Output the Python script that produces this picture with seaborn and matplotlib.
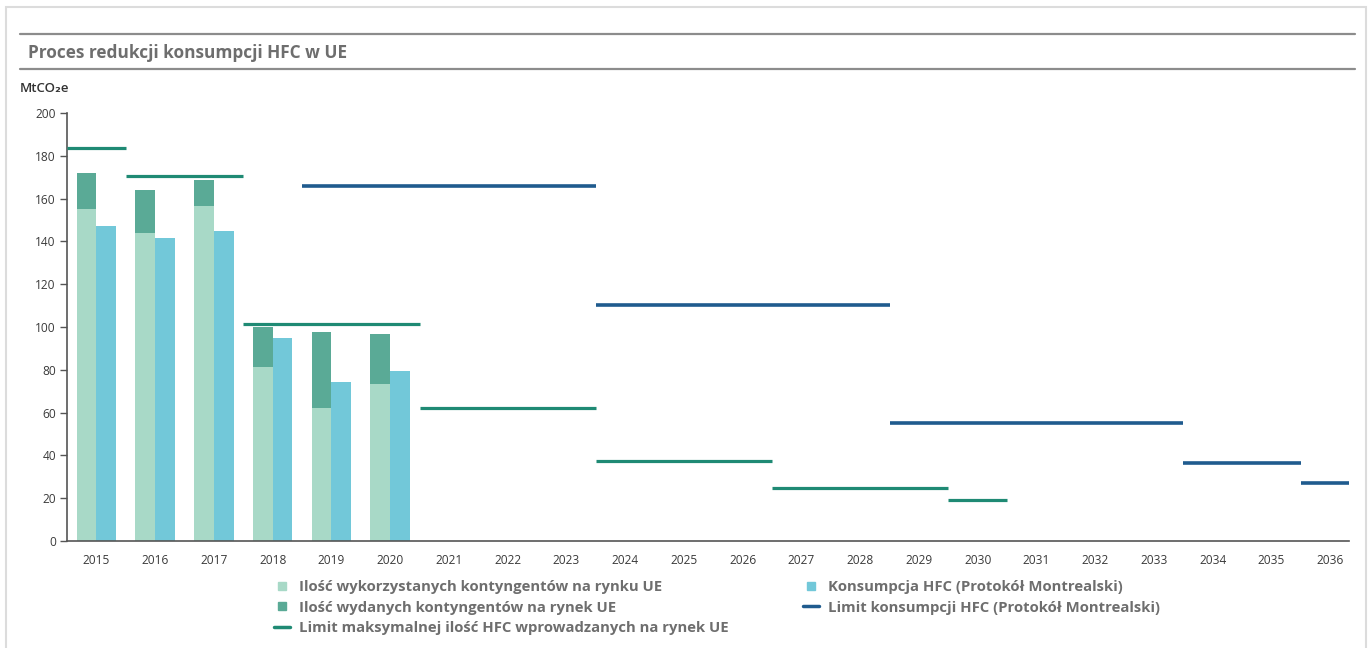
import numpy as np
import pandas as pd
import seaborn as sns
import matplotlib.pyplot as plt
from matplotlib.lines import Line2D
from matplotlib.patches import Rectangle

# --- data -------------------------------------------------------------
years = [str(y) for y in range(2015, 2037)]

bar_years = ["2015", "2016", "2017", "2018", "2019", "2020"]
quota_used = [155.0, 144.0, 156.5, 81.3, 62.1, 73.3]      # light part
quota_issued = [172.0, 164.0, 168.7, 100.0, 97.8, 96.7]   # top of dark part
consumption_mp = [147.2, 141.5, 145.0, 95.0, 74.5, 79.4]

eu_limit_start = ["2015", "2016", "2018", "2021", "2024", "2027", "2030"]
eu_limit_end = ["2015", "2017", "2020", "2023", "2026", "2029", "2030"]
eu_limit_value = [183.6, 170.7, 101.2, 62.0, 37.4, 24.9, 19.3]

mp_limit_start = ["2019", "2024", "2029", "2034", "2036"]
mp_limit_end = ["2023", "2028", "2033", "2035", "2036"]
mp_limit_value = [165.9, 110.4, 55.0, 36.4, 27.2]

title = "Proces redukcji konsumpcji HFC w UE"
unit_label = "MtCO\u2082e"
lbl_used = "Ilość wykorzystanych kontyngentów na rynku UE"
lbl_issued = "Ilość wydanych kontyngentów na rynek UE"
lbl_eu_limit = "Limit maksymalnej ilość HFC wprowadzanych na rynek UE"
lbl_cons = "Konsumpcja HFC (Protokół Montrealski)"
lbl_mp_limit = "Limit konsumpcji HFC (Protokół Montrealski)"

# --- colours ----------------------------------------------------------
c_light = "#a8d9c7"
c_dark = "#5aaa96"
c_cons = "#72c8d9"
c_eu = "#1f8a74"
c_mp = "#1f5b8e"
c_text = "#6e6e6e"

sns.set_theme(style="white")
plt.rcParams["font.family"] = ["Open Sans", "DejaVu Sans"]

W, H = 1370, 648
fig = plt.figure(figsize=(W / 100, H / 100), dpi=100)
ax = fig.add_axes([67 / W, 1 - 541 / H, (1349 - 67) / W, (541 - 113) / H])

# --- bars -------------------------------------------------------------
hue_order = ["kontyngent", "konsumpcja"]
df_back = pd.DataFrame({
    "rok": bar_years * 2,
    "wartosc": quota_issued + consumption_mp,
    "seria": ["kontyngent"] * len(bar_years) + ["konsumpcja"] * len(bar_years),
})
df_front = pd.DataFrame({
    "rok": bar_years,
    "wartosc": quota_used,
    "seria": ["kontyngent"] * len(bar_years),
})

bar_kw = dict(x="rok", y="wartosc", hue="seria", order=years,
              hue_order=hue_order, width=0.67, dodge=True, saturation=1,
              linewidth=0, errorbar=None, legend=False, ax=ax)
sns.barplot(data=df_back, palette=[c_dark, c_cons], **bar_kw)
sns.barplot(data=df_front, palette=[c_light, c_cons], **bar_kw)

# --- limit step segments ---------------------------------------------
pos = {y: i for i, y in enumerate(years)}
ax.hlines(eu_limit_value, [pos[s] - 0.5 for s in eu_limit_start],
          [pos[e] + 0.5 for e in eu_limit_end], color=c_eu, lw=2.3, zorder=4)
ax.hlines(mp_limit_value, [pos[s] - 0.5 for s in mp_limit_start],
          [pos[e] + 0.5 for e in mp_limit_end], color=c_mp, lw=2.6, zorder=4)

# --- axes styling -----------------------------------------------------
x_right = len(years) - 0.68   # the last year column is cut short
ax.set_xlim(-0.5, x_right)
ax.set_ylim(0, 200)
ax.set_yticks(range(0, 201, 20))
ax.set_xlabel("")
ax.set_ylabel("")
ax.set_xticks(range(len(years)))
ax.set_xticklabels(years)
ax.set_xticks(list(np.arange(-0.5, len(years) - 1, 1.0)) + [x_right], minor=True)
ax.tick_params(axis="x", which="major", length=0, pad=9, labelsize=8.6,
               labelcolor="#3a3a3a")
ax.tick_params(axis="x", which="minor", length=6, width=1, color="#555555",
               direction="out")
ax.tick_params(axis="y", length=5, width=1, color="#555555", direction="out",
               labelsize=8.6, labelcolor="#3a3a3a", pad=3, left=True)
for side in ("top", "right"):
    ax.spines[side].set_visible(False)
for side in ("left", "bottom"):
    ax.spines[side].set_color("#555555")
    ax.spines[side].set_linewidth(1.2)
ax.grid(False)

# --- header, frame and unit -------------------------------------------
fig.add_artist(Rectangle((6 / W, -0.01), (1366 - 6) / W, 1.01 - 7 / H,
                         transform=fig.transFigure, fill=False,
                         edgecolor="#dcdcdc", lw=1.5))
for yy in (34, 69):
    fig.add_artist(Line2D([20 / W, 1355 / W], [1 - yy / H, 1 - yy / H],
                          transform=fig.transFigure, color="#8c8c8c", lw=1.6))
fig.text(28 / W, 1 - 53 / H, title, fontsize=12.4, fontweight="bold",
         color=c_text, va="center", ha="left")
fig.text(20 / W, 1 - 88 / H, unit_label, fontsize=9.5, fontweight="semibold",
         color="#333333", va="center", ha="left")

# --- legends ----------------------------------------------------------
def sq(c):
    return Line2D([], [], marker="s", markersize=6, linestyle="none",
                  markerfacecolor=c, markeredgecolor=c)

def ln(c):
    return Line2D([], [], color=c, lw=2.5)

leg_kw = dict(frameon=False, borderpad=0, borderaxespad=0,
              handlelength=1.05, handletextpad=0.6, labelspacing=0.45,
              loc="upper left", prop={"weight": "bold", "size": 10.7})
leg1 = fig.legend([sq(c_light), sq(c_dark), ln(c_eu)],
                  [lbl_used, lbl_issued, lbl_eu_limit],
                  bbox_to_anchor=(274 / W, 1 - 580 / H), **leg_kw)
leg2 = fig.legend([sq(c_cons), ln(c_mp)], [lbl_cons, lbl_mp_limit],
                  bbox_to_anchor=(803 / W, 1 - 580 / H), **leg_kw)
for leg in (leg1, leg2):
    for t in leg.get_texts():
        t.set_color(c_text)

fig.savefig("out.png", dpi=100)
